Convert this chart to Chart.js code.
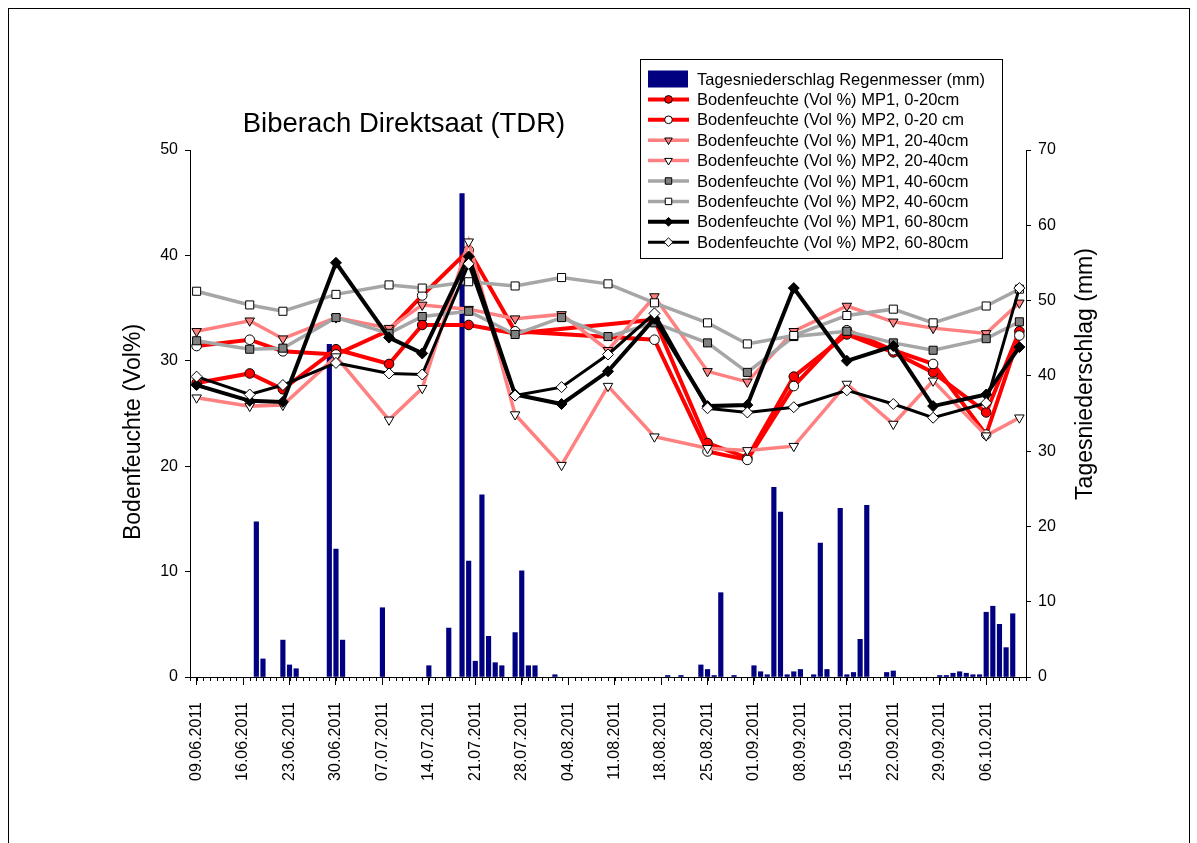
<!DOCTYPE html>
<html lang="de">
<head>
  <meta charset="UTF-8" />
  <title>Biberach Direktsaat (TDR)</title>
  <script src="https://cdn.jsdelivr.net/npm/chart.js"></script>
  <style>
    html, body {
      margin: 0;
      padding: 0;
      background-color: #fff;
    }
    canvas {
      display: block;
    }
  </style>
</head>
<body>
  <canvas id="soilChart" width="1197" height="843"></canvas>

  <script>
    // measurement dates of the TDR probes
    const measureDates = ['09.06', '17.06', '22.06', '30.06', '08.07', '13.07', '20.07', '27.07', '03.08',
      '10.08', '17.08', '25.08', '31.08', '07.09', '15.09', '22.09', '28.09', '06.10', '11.10'];

    // soil moisture (Vol %), null = no reading
    const mp1_0_20  = [27.9, 28.8, 27.3, 31.1, 29.7, 33.4, 33.4, 32.6, null, null, 33.9, 22.2, 20.8, 28.5, 32.5, 30.8, 28.9, 25.1, 32.8];
    const mp2_0_20  = [31.4, 32.0, 30.9, 30.6, 32.9, 36.2, 40.5, 32.8, null, null, 32.0, 21.4, 20.6, 27.6, 32.9, 31.0, 29.7, 23.0, 32.4];
    const mp1_20_40 = [32.8, 33.8, 32.1, 34.1, 33.1, 35.3, 34.9, 34.0, 34.4, 31.0, 36.1, 29.0, 28.0, 32.8, 35.2, 33.7, 33.1, 32.6, 35.5];
    const mp2_20_40 = [26.5, 25.7, 25.8, 30.4, 24.4, 27.4, 41.3, 24.9, 20.1, 27.6, 22.8, 21.7, 21.5, 21.9, 27.8, 24.0, 28.1, 22.9, 24.6];
    const mp1_40_60 = [31.9, 31.1, 31.2, 34.1, 32.6, 34.2, 34.7, 32.5, 34.1, 32.3, 33.6, 31.7, 28.9, 32.3, 32.8, 31.7, 31.0, 32.1, 33.7];
    const mp2_40_60 = [36.6, 35.3, 34.7, 36.3, 37.2, 36.9, 37.5, 37.1, 37.9, 37.3, 35.5, 33.6, 31.6, 32.4, 34.3, 34.9, 33.6, 35.2, 36.8];
    const mp1_60_80 = [27.7, 26.2, 26.1, 39.3, 32.2, 30.7, 39.9, 26.8, 25.9, 29.0, 34.0, 25.7, 25.8, 36.9, 30.0, 31.4, 25.7, 26.8, 31.3];
    const mp2_60_80 = [28.5, 26.8, 27.7, 29.8, 28.8, 28.7, 39.2, 26.7, 27.5, 30.6, 34.5, 25.5, 25.1, 25.6, 27.2, 25.9, 24.6, 26.0, 36.9];

    // daily rainfall (mm), days without rain left out
    const rainDates = ['18.06', '19.06', '22.06', '23.06', '24.06', '29.06', '30.06', '01.07', '07.07', '14.07',
      '17.07', '19.07', '20.07', '21.07', '22.07', '23.07', '24.07', '25.07', '27.07', '28.07', '29.07', '30.07',
      '02.08', '19.08', '21.08', '24.08', '25.08', '26.08', '27.08', '29.08', '01.09', '02.09', '03.09', '04.09',
      '05.09', '06.09', '07.09', '08.09', '10.09', '11.09', '12.09', '14.09', '15.09', '16.09', '17.09', '18.09',
      '21.09', '22.09', '29.09', '30.09', '01.10', '02.10', '03.10', '04.10', '05.10', '06.10', '07.10', '08.10',
      '09.10', '10.10'];
    const rainMm = [20.6, 2.4, 4.9, 1.6, 1.1, 44.2, 17.0, 4.9, 9.2, 1.5,
      6.5, 64.2, 15.4, 2.1, 24.2, 5.4, 1.9, 1.5, 5.9, 14.1, 1.5, 1.5,
      0.3, 0.2, 0.2, 1.6, 1.0, 0.2, 11.2, 0.2, 1.5, 0.7, 0.3, 25.2,
      21.9, 0.3, 0.7, 1.0, 0.3, 17.8, 1.0, 22.4, 0.3, 0.6, 5.0, 22.8,
      0.6, 0.8, 0.2, 0.2, 0.5, 0.7, 0.5, 0.3, 0.3, 8.6, 9.4, 7.0,
      3.9, 8.4];

    // x axis: days counted from 09.06.2011, labelled weekly
    const labelDates = ['09.06', '16.06', '23.06', '30.06', '07.07', '14.07', '21.07', '28.07', '04.08',
      '11.08', '18.08', '25.08', '01.09', '08.09', '15.09', '22.09', '29.09', '06.10'];

    const YEAR = 2011;
    const FONT = 'Arial, "Liberation Sans", sans-serif';

    function dayOf(s) {
      const [d, m] = s.split('.').map(Number);
      return Math.round((Date.UTC(YEAR, m - 1, d) - Date.UTC(YEAR, 5, 9)) / 864e5);
    }

    function dateLabel(v) {
      const t = new Date(Date.UTC(YEAR, 5, 9 + v));
      const pad = n => String(n).padStart(2, '0');
      return pad(t.getUTCDate()) + '.' + pad(t.getUTCMonth() + 1) + '.' + t.getUTCFullYear();
    }

    const lineSeries = [
      { label: 'Bodenfeuchte (Vol %) MP1, 0-20cm',  data: mp1_0_20,  color: '#ff0000', width: 4,   point: 'circle',   fill: '#ff0000', r: 4.8 },
      { label: 'Bodenfeuchte (Vol %) MP2, 0-20 cm', data: mp2_0_20,  color: '#ff0000', width: 4,   point: 'circle',   fill: '#ffffff', r: 4.8 },
      { label: 'Bodenfeuchte (Vol %) MP1, 20-40cm', data: mp1_20_40, color: '#ff8080', width: 3.5, point: 'triangle', fill: '#ff8080', r: 5.5, rot: 180 },
      { label: 'Bodenfeuchte (Vol %) MP2, 20-40cm', data: mp2_20_40, color: '#ff8080', width: 3.5, point: 'triangle', fill: '#ffffff', r: 5.5, rot: 180 },
      { label: 'Bodenfeuchte (Vol %) MP1, 40-60cm', data: mp1_40_60, color: '#a6a6a6', width: 3.5, point: 'rect',     fill: '#808080', r: 5.7 },
      { label: 'Bodenfeuchte (Vol %) MP2, 40-60cm', data: mp2_40_60, color: '#a6a6a6', width: 3.5, point: 'rect',     fill: '#ffffff', r: 5.7 },
      { label: 'Bodenfeuchte (Vol %) MP1, 60-80cm', data: mp1_60_80, color: '#000000', width: 4,   point: 'rectRot',  fill: '#000000', r: 5.5 },
      { label: 'Bodenfeuchte (Vol %) MP2, 60-80cm', data: mp2_60_80, color: '#000000', width: 3,   point: 'rectRot',  fill: '#ffffff', r: 5.5 }
    ];

    const datasets = [{
      type: 'bar',
      label: 'Tagesniederschlag Regenmesser (mm)',
      yAxisID: 'y1',
      data: rainDates.map((d, i) => ({ x: dayOf(d), y: rainMm[i] })),
      backgroundColor: '#000080',
      barThickness: 4.5,
      order: 20
    }].concat(lineSeries.map((s, i) => ({
      type: 'line',
      label: s.label,
      yAxisID: 'y',
      data: measureDates.map((d, j) => ({ x: dayOf(d), y: s.data[j] })),
      borderColor: s.color,
      borderWidth: s.width,
      tension: 0,
      spanGaps: true,
      pointStyle: s.point,
      pointRotation: s.rot || 0,
      pointRadius: s.r,
      pointBackgroundColor: s.fill,
      pointBorderColor: '#000',
      pointBorderWidth: 1,
      order: 10 - i
    })));

    // small daily ticks between the weekly labels
    const minorTicks = {
      id: 'minorTicks',
      afterDraw(chart) {
        const sx = chart.scales.x;
        const ctx = chart.ctx;
        const y0 = chart.chartArea.bottom;
        ctx.save();
        ctx.strokeStyle = '#000';
        ctx.lineWidth = 1;
        ctx.beginPath();
        for (let d = Math.ceil(sx.min); d <= sx.max; d++) {
          const px = Math.round(sx.getPixelForValue(d)) + 0.5;
          ctx.moveTo(px, y0);
          ctx.lineTo(px, y0 + 4);
        }
        ctx.stroke();
        ctx.restore();
      }
    };

    // title, axis titles, framed legend and outer border
    const decorations = {
      id: 'decorations',
      afterDraw(chart) {
        const ctx = chart.ctx;
        ctx.save();

        ctx.strokeStyle = '#000';
        ctx.lineWidth = 1;
        ctx.strokeRect(8.5, 8.5, 1181, 900);

        ctx.fillStyle = '#000';
        ctx.textAlign = 'center';
        ctx.textBaseline = 'middle';
        ctx.font = '27.5px ' + FONT;
        ctx.fillText('Biberach Direktsaat (TDR)', 404, 124);

        ctx.font = '23px ' + FONT;
        ctx.save();
        ctx.translate(134, 432);
        ctx.rotate(-Math.PI / 2);
        ctx.fillText('Bodenfeuchte (Vol%)', 0, 0);
        ctx.restore();
        ctx.save();
        ctx.translate(1086, 374);
        ctx.rotate(-Math.PI / 2);
        ctx.fillText('Tagesniederschlag (mm)', 0, 0);
        ctx.restore();

        // legend
        const bx = 640.5, by = 59.5, bw = 362, bh = 199;
        ctx.fillStyle = '#fff';
        ctx.fillRect(bx, by, bw, bh);
        ctx.strokeRect(bx, by, bw, bh);
        ctx.font = '16.5px ' + FONT;
        ctx.textAlign = 'left';
        chart.data.datasets.forEach((ds, i) => {
          const cy = 79 + i * 20.4;
          if (ds.type === 'bar') {
            ctx.fillStyle = ds.backgroundColor;
            ctx.fillRect(648, cy - 8.5, 40, 17);
          } else {
            ctx.strokeStyle = ds.borderColor;
            ctx.lineWidth = ds.borderWidth;
            ctx.beginPath();
            ctx.moveTo(648, cy);
            ctx.lineTo(689, cy);
            ctx.stroke();
            ctx.fillStyle = ds.pointBackgroundColor;
            ctx.strokeStyle = '#000';
            ctx.lineWidth = 1;
            Chart.helpers.drawPoint(ctx, {
              pointStyle: ds.pointStyle,
              rotation: ds.pointRotation,
              radius: ds.pointRadius * 0.8,
              borderWidth: 1
            }, 668.5, cy);
          }
          ctx.fillStyle = '#000';
          ctx.fillText(ds.label, 697, cy + 1);
        });

        ctx.restore();
      }
    };

    const tickFont = { family: FONT, size: 16 };

    new Chart(document.getElementById('soilChart').getContext('2d'), {
      type: 'bar',
      data: { datasets: datasets },
      options: {
        responsive: false,
        animation: false,
        devicePixelRatio: 1,
        layout: { padding: { top: 150, left: 0, right: 0, bottom: 0 } },
        plugins: {
          legend: { display: false },
          tooltip: { enabled: false }
        },
        scales: {
          x: {
            type: 'linear',
            min: -1,
            max: 125,
            offset: false,
            afterBuildTicks: s => { s.ticks = labelDates.map(d => ({ value: dayOf(d) })); },
            afterFit: s => { s.height = 166; },
            grid: { drawOnChartArea: false, offset: false, tickLength: 8, color: '#000' },
            border: { color: '#000', width: 1 },
            ticks: {
              autoSkip: false,
              minRotation: 90,
              maxRotation: 90,
              padding: 17,
              color: '#000',
              font: tickFont,
              callback: v => dateLabel(v)
            }
          },
          y: {
            position: 'left',
            min: 0,
            max: 50,
            afterFit: s => { s.width = 190; },
            grid: { drawOnChartArea: false, tickLength: 5, color: '#000' },
            border: { color: '#000', width: 1 },
            ticks: { stepSize: 10, padding: 7, color: '#000', font: tickFont }
          },
          y1: {
            position: 'right',
            min: 0,
            max: 70,
            afterFit: s => { s.width = 171; },
            grid: { drawOnChartArea: false, tickLength: 5, color: '#000' },
            border: { color: '#000', width: 1 },
            ticks: { stepSize: 10, padding: 7, color: '#000', font: tickFont }
          }
        }
      },
      plugins: [minorTicks, decorations]
    });
  </script>
</body>
</html>
